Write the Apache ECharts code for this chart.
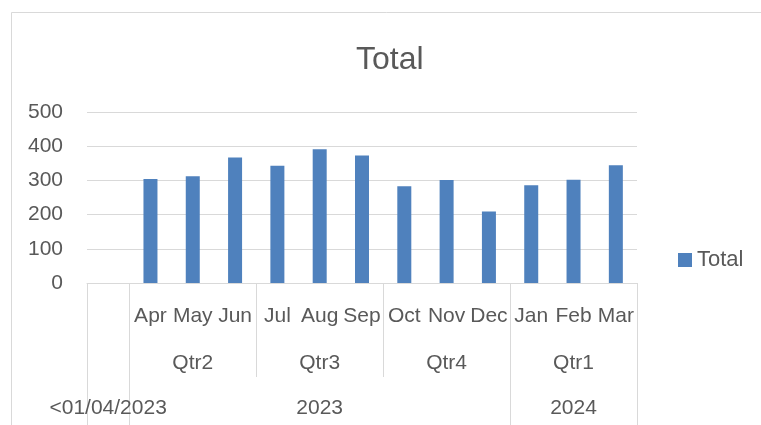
<!DOCTYPE html>
<html>
<head>
<meta charset="utf-8">
<script src="https://cdn.jsdelivr.net/npm/echarts@6/dist/echarts.min.js"></script>
<style>
html,body{margin:0;padding:0;background:#ffffff;}
#chart{width:761px;height:425px;}
</style>
</head>
<body>
<div id="chart"></div>
<script>
// ---- data ----
const months = ['', 'Apr', 'May', 'Jun', 'Jul', 'Aug', 'Sep', 'Oct', 'Nov', 'Dec', 'Jan', 'Feb', 'Mar'];
const quarters = ['', 'Qtr2', 'Qtr2', 'Qtr2', 'Qtr3', 'Qtr3', 'Qtr3', 'Qtr4', 'Qtr4', 'Qtr4', 'Qtr1', 'Qtr1', 'Qtr1'];
const years = ['<01/04/2023', '2023', '2023', '2023', '2023', '2023', '2023', '2023', '2023', '2023', '2024', '2024', '2024'];
const totals = [null, 304, 312, 367, 343, 391, 373, 283, 301, 209, 286, 302, 344];
const seriesName = 'Total';
const yMin = 0, yMax = 500, yStep = 100;

// ---- group helpers ----
function runs(keys) {
  const out = [];
  keys.forEach((k, i) => {
    if (i === 0 || keys[i - 1] !== k) out.push({ start: i, end: i, key: k });
    else out[out.length - 1].end = i;
  });
  return out;
}
const qKeys = quarters.map((q, i) => years[i] + '|' + q);
const qRuns = runs(qKeys);
const yRuns = runs(years);
const qStarts = new Set(qRuns.map(r => r.start));
const yStarts = new Set(yRuns.map(r => r.start));
const qMids = new Set(qRuns.map(r => Math.floor((r.start + r.end) / 2)));
const yMids = new Set(yRuns.map(r => Math.floor((r.start + r.end) / 2)));

const FONT = 'Liberation Sans, Arial, sans-serif';
const TXT = '#595959';
const GRID = '#D9D9D9';

const chart = echarts.init(document.getElementById('chart'), null, { renderer: 'canvas' });
chart.setOption({
  animation: false,
  backgroundColor: '#ffffff',
  textStyle: { fontFamily: FONT },
  graphic: [{
    type: 'rect', silent: true, z: -10,
    shape: { x: 11.5, y: 12.5, width: 800, height: 500 },
    style: { fill: 'none', stroke: GRID, lineWidth: 1 }
  }],
  title: {
    text: 'Total', left: 356, top: 44, padding: 0,
    textStyle: { fontSize: 32, fontWeight: 'normal', color: TXT, fontFamily: FONT }
  },
  legend: {
    data: [seriesName], left: 678, top: 249, padding: 0,
    icon: 'rect', itemWidth: 14, itemHeight: 14,
    textStyle: { fontSize: 22, color: TXT, fontFamily: FONT }
  },
  grid: { left: 87, right: 124, top: 112, bottom: 142, outerBoundsMode: 'none', containLabel: false },
  xAxis: [
    {
      type: 'category', data: months, position: 'bottom', boundaryGap: true,
      axisLine: { show: true, lineStyle: { color: GRID, width: 1 } },
      axisTick: { show: true, interval: (i) => qStarts.has(i), length: 94, lineStyle: { color: GRID, width: 1 } },
      axisLabel: { interval: 0, fontSize: 21, lineHeight: 22, color: TXT, margin: 22, fontFamily: FONT },
      splitLine: { show: false }
    },
    {
      type: 'category', data: months, position: 'bottom', boundaryGap: true,
      axisLine: { show: false },
      axisTick: { show: true, interval: (i) => yStarts.has(i), length: 150, lineStyle: { color: GRID, width: 1 } },
      axisLabel: { interval: (i) => qMids.has(i), formatter: (v, i) => quarters[i], fontSize: 21, lineHeight: 22, color: TXT, margin: 69, fontFamily: FONT },
      splitLine: { show: false }
    },
    {
      type: 'category', data: months, position: 'bottom', boundaryGap: true,
      axisLine: { show: false },
      axisTick: { show: false },
      axisLabel: { interval: (i) => yMids.has(i), formatter: (v, i) => years[i], fontSize: 21, lineHeight: 22, color: TXT, margin: 114, fontFamily: FONT },
      splitLine: { show: false }
    }
  ],
  yAxis: {
    type: 'value', min: yMin, max: yMax, interval: yStep,
    axisLine: { show: false }, axisTick: { show: false },
    axisLabel: { fontSize: 21, color: TXT, margin: 24, fontFamily: FONT },
    splitLine: { show: true, lineStyle: { color: GRID, width: 1 } }
  },
  series: [{
    name: seriesName, type: 'bar', xAxisIndex: 0, data: totals,
    barWidth: 14,
    itemStyle: { color: '#4F81BD' }
  }]
});
</script>
</body>
</html>
